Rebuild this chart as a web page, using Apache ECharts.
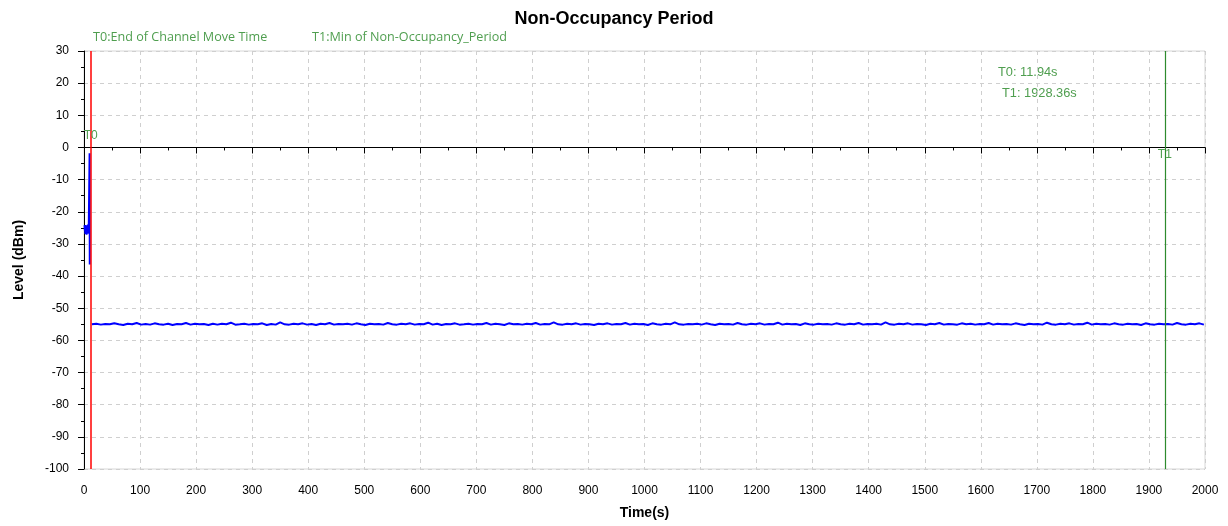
<!DOCTYPE html>
<html>
<head>
<meta charset="utf-8">
<script src="https://cdn.jsdelivr.net/npm/echarts@6/dist/echarts.min.js"></script>
<style>html,body{margin:0;padding:0;background:#fff}#c{width:1228px;height:526px}</style>
</head>
<body>
<div id="c"></div>
<script>
// ---- data ----
const titleText = 'Non-Occupancy Period';
const xName = 'Time(s)';
const yName = 'Level (dBm)';
const headerT0 = 'T0:End of Channel Move Time';
const headerT1 = 'T1:Min of Non-Occupancy_Period';
const markerT0 = 11.94;
const markerT1 = 1928.36;
const readoutT0 = 'T0: 11.94s';
const readoutT1 = 'T1: 1928.36s';
// initial burst before the channel move (time, level)
const burstTimes  = [1, 1.5, 2, 2.5, 3, 3.5, 4, 4.5, 5, 5.5, 6, 6.5, 7, 7.5, 8, 8.5, 9, 10, 10.3];
const burstLevels = [-24.2, -25.8, -24.6, -26.9, -24.1, -26.3, -25.0, -27.1, -24.4, -26.0, -25.3, -26.8, -24.0, -25.6, -26.4, -24.8, -25.2, -1.8, -36.4];
// steady non-occupancy noise floor: start time & sampling step (s)
const floorStart = 14;
const floorStep = 8;
const floorLevels = [
-55.0,-54.8,-55.1,-54.9,-55.0,-54.7,-55.0,-55.2,-54.8,-55.0,-54.6,-55.1,-54.9,-55.1,-54.7,-55.0,-55.1,-54.8,-55.2,-54.9,
-55.0,-54.6,-55.1,-54.8,-55.0,-54.9,-55.2,-54.8,-55.1,-54.8,-55.0,-54.5,-55.1,-55.0,-54.8,-55.1,-54.9,-55.0,-54.7,-55.2,
-54.9,-55.1,-54.4,-55.0,-55.1,-54.8,-55.0,-54.7,-55.1,-54.9,-55.2,-54.8,-55.0,-54.6,-55.1,-54.9,-55.0,-54.8,-55.1,-54.7,
-55.0,-55.2,-54.8,-55.0,-54.9,-55.1,-54.6,-55.0,-55.1,-54.8,-55.0,-54.7,-55.1,-54.9,-55.0,-54.5,-55.1,-54.8,-55.2,-54.9,
-55.0,-54.7,-55.1,-55.0,-54.8,-55.1,-54.9,-55.0,-54.6,-55.1,-54.8,-55.0,-55.2,-54.7,-55.0,-54.9,-55.1,-54.8,-55.0,-54.6,
-55.1,-54.9,-55.0,-54.4,-55.0,-55.1,-54.8,-55.0,-54.7,-55.1,-54.9,-55.0,-55.2,-54.8,-55.0,-54.7,-55.1,-54.9,-55.0,-54.6,
-55.1,-54.8,-55.0,-54.9,-55.2,-54.7,-55.0,-55.1,-54.8,-55.0,-54.4,-55.0,-55.1,-54.9,-55.0,-54.8,-55.1,-54.7,-55.0,-55.2,
-54.8,-55.0,-54.9,-55.1,-54.6,-55.0,-55.1,-54.8,-55.0,-54.7,-55.1,-54.9,-55.0,-54.5,-55.1,-54.8,-55.0,-54.9,-55.2,-54.7,
-55.0,-55.1,-54.8,-55.0,-54.9,-55.1,-54.7,-55.0,-55.1,-54.8,-55.0,-54.6,-55.1,-54.9,-55.0,-54.8,-55.1,-54.4,-55.0,-55.1,
-54.8,-55.0,-54.7,-55.1,-54.9,-55.0,-55.2,-54.8,-55.0,-54.6,-55.1,-54.9,-55.0,-55.1,-54.7,-55.0,-54.8,-55.1,-54.9,-55.0,
-54.6,-55.1,-54.8,-55.0,-54.9,-55.1,-54.7,-55.0,-55.2,-54.8,-55.0,-54.9,-55.1,-54.5,-55.0,-55.1,-54.8,-55.0,-54.7,-55.1,
-54.9,-55.0,-54.5,-55.1,-54.8,-55.0,-54.9,-55.1,-54.7,-55.0,-55.1,-54.8,-55.0,-54.9,-55.2,-54.7,-55.0,-55.1,-54.8,-55.0,
-54.9,-55.1,-54.6,-55.0,-55.1,-54.8,-55.0,-54.7,-55.1
];

// ---- build series data ----
const lineData = [];
burstTimes.forEach((t, i) => lineData.push([t, burstLevels[i]]));
lineData.push([11, null]);
floorLevels.forEach((v, i) => lineData.push([floorStart + i * floorStep, v]));

const txtGreen = '#4f9e4f';
const lineGreen = '#2e8b2e';
const tickFont = 'Liberation Sans, Arial, sans-serif';

const chart = echarts.init(document.getElementById('c'), null, {renderer: 'canvas'});
chart.setOption({
  animation: false,
  backgroundColor: '#fff',
  title: {
    text: titleText, left: 'center', top: 5,
    textStyle: {fontFamily: tickFont, fontSize: 18, fontWeight: 'bold', color: '#000'}
  },
  grid: {left: 84, right: 23, top: 51, bottom: 57, show: true, borderColor: '#d6d6d6', borderWidth: 1},
  xAxis: {
    type: 'value', min: 0, max: 2000, interval: 100, offset: 6,
    name: xName, nameLocation: 'middle', nameGap: 31,
    nameTextStyle: {fontFamily: tickFont, fontSize: 14, fontWeight: 'bold', color: '#000'},
    axisLine: {show: true, lineStyle: {color: '#000', width: 1}},
    axisTick: {show: true, length: 6, lineStyle: {color: '#000'}},
    minorTick: {show: true, splitNumber: 2, length: 3, lineStyle: {color: '#000'}},
    axisLabel: {fontFamily: tickFont, fontSize: 12, color: '#000', margin: 10, formatter: v => String(v)},
    splitLine: {show: true, lineStyle: {color: '#cfcfcf', type: [4, 4]}}
  },
  yAxis: {
    type: 'value', min: -100, max: 30, interval: 10, offset: 6,
    name: yName, nameLocation: 'middle', nameGap: 52, nameRotate: 90,
    nameTextStyle: {fontFamily: tickFont, fontSize: 14, fontWeight: 'bold', color: '#000'},
    axisLine: {show: true, lineStyle: {color: '#000', width: 1}},
    axisTick: {show: true, length: 6, lineStyle: {color: '#000'}},
    minorTick: {show: true, splitNumber: 2, length: 3, lineStyle: {color: '#000'}},
    axisLabel: {fontFamily: tickFont, fontSize: 12, color: '#000', margin: 9, formatter: v => String(v)},
    splitLine: {show: true, lineStyle: {color: '#cfcfcf', type: [4, 4]}}
  },
  series: [{
    type: 'line', data: lineData, showSymbol: false, connectNulls: false,
    lineStyle: {color: '#0000ff', width: 2}, itemStyle: {color: '#0000ff'},
    markLine: {
      silent: true, symbol: ['none', 'none'], animation: false,
      label: {show: false},
      data: [
        {xAxis: markerT0, lineStyle: {color: '#ff0000', width: 1.5, type: 'solid'}},
        {xAxis: markerT1, lineStyle: {color: lineGreen, width: 1.2, type: 'solid'}}
      ]
    },
    markPoint: {
      silent: true, symbol: 'circle', symbolSize: 0, animation: false,
      label: {show: true, position: 'inside', color: txtGreen, fontFamily: tickFont, fontSize: 12},
      data: [
        {coord: [markerT0, 3.8], value: 'T0', label: {formatter: 'T0'}},
        {coord: [markerT1, -2.4], value: 'T1', label: {formatter: 'T1'}}
      ]
    }
  }],
  graphic: [
    {type: 'text', left: 93, top: 31, style: {text: headerT0, fill: txtGreen, font: '12.6px "Open Sans", sans-serif'}},
    {type: 'text', left: 312, top: 31, style: {text: headerT1, fill: txtGreen, font: '12.6px "Open Sans", sans-serif'}},
    {type: 'text', left: 998, top: 66, style: {text: readoutT0, fill: txtGreen, font: '12.8px Liberation Sans, sans-serif'}},
    {type: 'text', left: 1002, top: 87, style: {text: readoutT1, fill: txtGreen, font: '12.8px Liberation Sans, sans-serif'}}
  ]
});
</script>
</body>
</html>
